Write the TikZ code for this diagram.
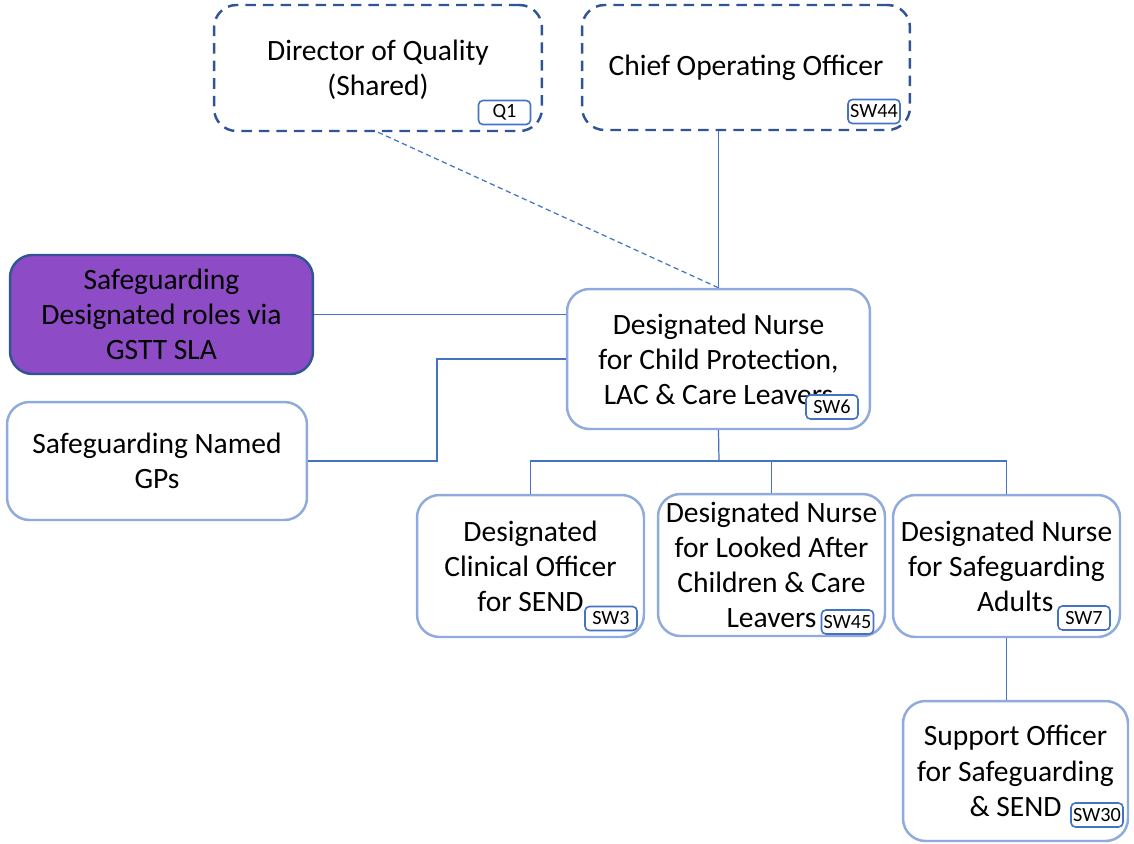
\documentclass[tikz,border=0pt]{standalone}
\usepackage{fontspec}
\setmainfont{Carlito}
\usetikzlibrary{positioning}

\definecolor{linkblue}{HTML}{4472C4}
\definecolor{boxblue}{HTML}{8FAADC}
\definecolor{darkblue}{HTML}{2F5597}
\definecolor{sgpurple}{HTML}{8E4BC6}

\tikzset{
  role/.style={draw=boxblue, line width=1.4pt, rounded corners=0.45cm, fill=white,
    align=center, font=\fontsize{16.8}{20}\selectfont, inner sep=2pt},
  exec/.style={role, draw=darkblue, dashed, dash pattern=on 6pt off 4pt},
  sgrole/.style={role, draw=darkblue, fill=sgpurple},
  tag/.style={draw=linkblue, line width=0.9pt, rounded corners=2.5pt, fill=white,
    minimum width=1.04cm, minimum height=0.48cm, inner sep=1pt,
    font=\fontsize{11.5}{13}\selectfont},
  link/.style={draw=linkblue, line width=0.7pt}
}

\begin{document}
\begin{tikzpicture}[x=0.02cm, y=-0.02cm]
  \useasboundingbox (0,0) rectangle (1134,843); %page frame

  %Executive level
  \node[exec, minimum width=6.56cm, minimum height=2.52cm] (doq) at (378,68) {\\[-6pt]Director of Quality\\(Shared)};
  \node[exec, minimum width=6.56cm, minimum height=2.5cm] (coo) at (746,67.5) {Chief Operating Officer};

  %Side roles
  \node[sgrole, minimum width=6.06cm, minimum height=2.38cm] (sgd) at (161.5,314.5) {Safeguarding\\Designated roles via\\GSTT SLA};
  \node[role, minimum width=6.0cm, minimum height=2.36cm] (gps) at (157,461) {Safeguarding Named\\GPs};

  %Designated nurses
  \node[role, minimum width=6.06cm, minimum height=2.8cm] (dncp) at (718.5,359) {Designated Nurse\\for Child Protection,\\LAC \& Care Leavers};
  \node[role, minimum width=4.54cm, minimum height=2.84cm] (dco) at (530.5,566) {Designated\\Clinical Officer\\for SEND};
  \node[role, minimum width=4.54cm, minimum height=2.84cm] (dnlac) at (771.5,565) {Designated Nurse\\for Looked After\\Children \& Care\\Leavers};
  \node[role, minimum width=4.54cm, minimum height=2.84cm] (dnsa) at (1006.5,566) {Designated Nurse\\for Safeguarding\\\hspace*{0.35cm}Adults};
  \node[role, minimum width=4.5cm, minimum height=2.8cm] (so) at (1015.5,771) {Support Officer\\for Safeguarding\\\& SEND};

  %Post codes
  \node[tag] (q1) at (504.5,112.5) {Q1};
  \node[tag] (sw44) at (874,111.5) {SW44};
  \node[tag] (sw6) at (832,407) {SW6};
  \node[tag] (sw3) at (611,618.5) {SW3};
  \node[tag] (sw45) at (847.5,622) {SW45};
  \node[tag] (sw7) at (1084,618) {SW7};
  \node[tag] (sw30) at (1097,815) {SW30};

  %Reporting lines
  \coordinate (gpbend) at (437,461);
  \coordinate (split) at (719,461);
  \draw[link, dashed, dash pattern=on 3pt off 2pt] (doq.south) -- (dncp.north);
  \draw[link] (coo.south -| dncp.north) -- (dncp.north);
  \draw[link] (sgd.east) -- (sgd.east -| dncp.west);
  \draw[link] (gps.east) -- (gpbend) |- (dncp.west);
  \draw[link] (dncp.south) -- (split);
  \draw[link] (dco.north) |- (split) -| (dnsa.north);
  \draw[link] (dnlac.north) -- (dnlac.north |- split);
  \draw[link] (dnsa.south) -- (dnsa.south |- so.north);
\end{tikzpicture}
\end{document}
